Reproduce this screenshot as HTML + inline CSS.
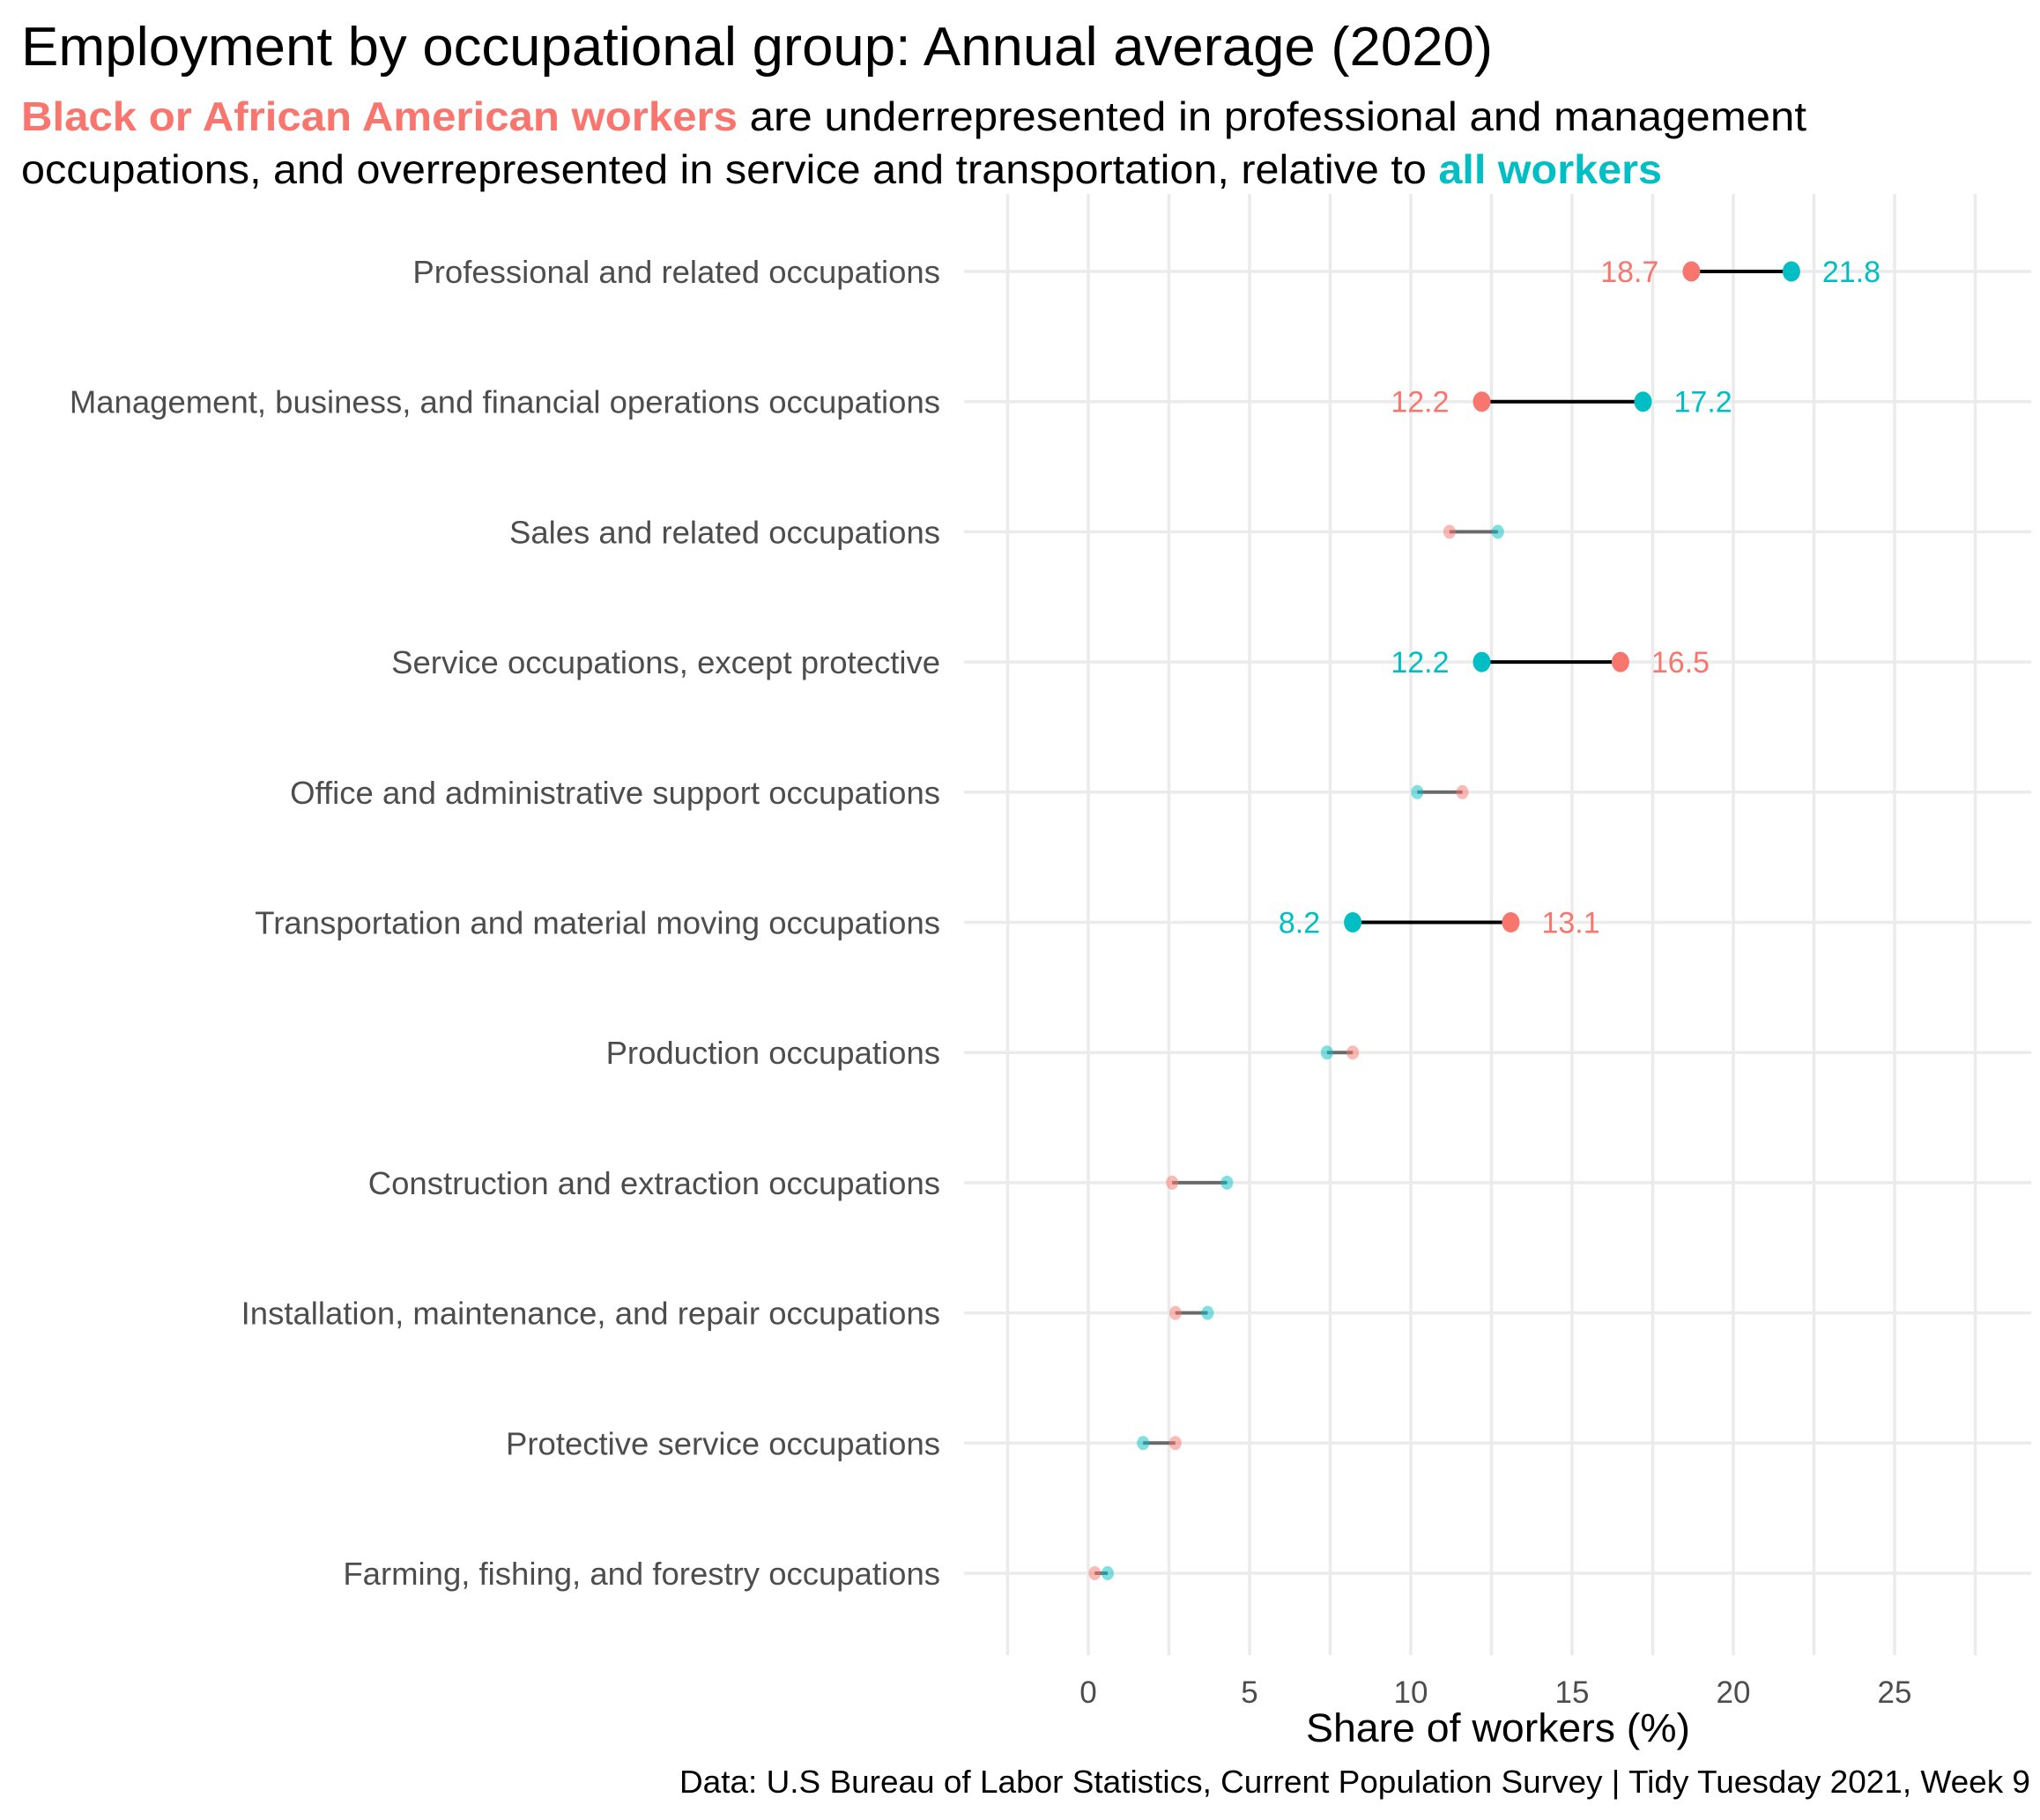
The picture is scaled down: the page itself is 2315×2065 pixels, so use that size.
<!DOCTYPE html>
<html><head><meta charset="utf-8"><style>
html,body{margin:0;padding:0;background:#fff;}
svg{display:block;font-family:"Liberation Sans",Arial,sans-serif;}
</style></head><body>
<svg id="chart" width="2315" height="2065" viewBox="0 0 2315 2065" xmlns="http://www.w3.org/2000/svg">
<rect width="2315" height="2065" fill="#fff"/>
<text x="24" y="74" font-size="62" fill="#000" textLength="1670" lengthAdjust="spacingAndGlyphs">Employment by occupational group: Annual average (2020)</text>
<text x="24" y="148" font-size="46" fill="#000" textLength="2026" lengthAdjust="spacingAndGlyphs"><tspan font-weight="bold" fill="#F8766D">Black or African American workers</tspan> are underrepresented in professional and management</text>
<text x="24" y="208" font-size="46" fill="#000" textLength="1862" lengthAdjust="spacingAndGlyphs">occupations, and overrepresented in service and transportation, relative to <tspan font-weight="bold" fill="#00BFC4">all workers</tspan></text>
<g id="grid"></g>
<g id="marks"></g>
<g id="labels"></g>
<text x="1700" y="1986" font-size="45" text-anchor="middle" fill="#000" textLength="436" lengthAdjust="spacingAndGlyphs" transform="translate(0,-10)">Share of workers (%)</text>
<text x="2304" y="2034" font-size="36" text-anchor="end" fill="#000" textLength="1533" lengthAdjust="spacingAndGlyphs">Data: U.S Bureau of Labor Statistics, Current Population Survey | Tidy Tuesday 2021, Week 9</text>
</svg>
<script>
const categories = ["Professional and related occupations","Management, business, and financial operations occupations","Sales and related occupations","Service occupations, except protective","Office and administrative support occupations","Transportation and material moving occupations","Production occupations","Construction and extraction occupations","Installation, maintenance, and repair occupations","Protective service occupations","Farming, fishing, and forestry occupations"];
const blackShare = [18.7,12.2,11.2,16.5,11.6,13.1,8.2,2.6,2.7,2.7,0.2];
const allShare = [21.8,17.2,12.7,12.2,10.2,8.2,7.4,4.3,3.7,1.7,0.6];
const highlighted = [true,true,false,true,false,true,false,false,false,false,false];
const xTicks = [0,5,10,15,20,25];
const xGrid = [-2.5,0,2.5,5,7.5,10,12.5,15,17.5,20,22.5,25,27.5];

const NS="http://www.w3.org/2000/svg";
const X0=1235, PXU=36.6, PL=1094, PR=2305, PT=220, PB=1878, Y0=308, DY=147.7;
const x=v=>X0+v*PXU;
const y=i=>Y0+i*DY;
function mk(tag,attrs,parent){const e=document.createElementNS(NS,tag);for(const k in attrs)e.setAttribute(k,attrs[k]);parent.appendChild(e);return e;}
const grid=document.getElementById('grid'),marks=document.getElementById('marks'),labels=document.getElementById('labels');
xGrid.forEach(v=>{
  const l=mk('line',{x1:x(v),x2:x(v),y1:PT,y2:PB,stroke:'#ebebeb','stroke-width':3.5},grid);
  
  
});
categories.forEach((c,i)=>{
  const l=mk('line',{x1:PL,x2:PR,y1:y(i),y2:y(i),stroke:'#ebebeb','stroke-width':3.5},grid);
  
  
  const t=mk('text',{x:1067,y:y(i)+13,'font-size':36.5,'text-anchor':'end',fill:'#4d4d4d'},labels);
  t.textContent=c;
  
  
});
xTicks.forEach(v=>{
  const t=mk('text',{x:x(v),y:1932,'font-size':35,'text-anchor':'middle',fill:'#4d4d4d'},labels);
  t.textContent=v;
  
  
});
categories.forEach((c,i)=>{
  const b=blackShare[i],a=allShare[i],h=highlighted[i];
  const op=h?1:0.5;
  const seg=mk('line',{x1:x(b),x2:x(a),y1:y(i),y2:y(i),stroke:'#000','stroke-width':4,opacity:h?1:0.55},marks);
  
  
  const rx=h?10:7, ry=h?11.5:8;
  const pb=mk('ellipse',{cx:x(b),cy:y(i),rx:rx,ry:ry,fill:'#F8766D',opacity:op},marks);
  
  
  const pa=mk('ellipse',{cx:x(a),cy:y(i),rx:rx,ry:ry,fill:'#00BFC4',opacity:op},marks);
  
  
  if(h){
    const lo=Math.min(a,b),hi=Math.max(a,b);
    const loCol=(b<a)?'#F8766D':'#00BFC4', hiCol=(b>a)?'#F8766D':'#00BFC4';
    const t1=mk('text',{x:x(lo)-37,y:y(i)+12,'font-size':34,'text-anchor':'end',fill:loCol},labels);
    t1.textContent=lo.toFixed(1);
    
    
    const t2=mk('text',{x:x(hi)+35,y:y(i)+12,'font-size':34,'text-anchor':'start',fill:hiCol},labels);
    t2.textContent=hi.toFixed(1);
    
    
  }
});
</script>
</body></html>
